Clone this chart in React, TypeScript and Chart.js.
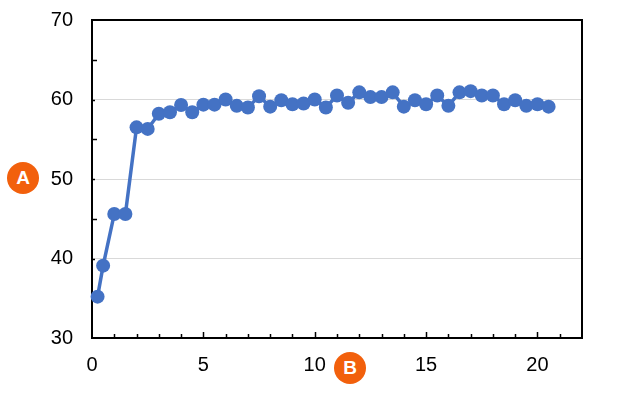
import React, { useEffect, useRef } from "react";
import { Chart, registerables } from "chart.js";

Chart.register(...registerables);

const xValues = [0.25, 0.5, 1, 1.5, 2, 2.5, 3, 3.5, 4, 4.5, 5, 5.5, 6, 6.5, 7, 7.5, 8, 8.5, 9, 9.5, 10, 10.5, 11, 11.5, 12, 12.5, 13, 13.5, 14, 14.5, 15, 15.5, 16, 16.5, 17, 17.5, 18, 18.5, 19, 19.5, 20, 20.5];
const yValues = [35.2, 39.1, 45.6, 45.6, 56.5, 56.3, 58.2, 58.4, 59.3, 58.4, 59.35, 59.35, 60.0, 59.2, 59.0, 60.4, 59.1, 59.9, 59.4, 59.5, 60.0, 59.0, 60.5, 59.6, 60.9, 60.3, 60.3, 60.9, 59.1, 59.9, 59.4, 60.5, 59.2, 60.9, 61.05, 60.5, 60.5, 59.4, 59.9, 59.2, 59.4, 59.1];
const xMin = 0;
const xMax = 22;
const yMin = 30;
const yMax = 70;
const xMajorStep = 5;
const xMinorStep = 1;
const yMajorStep = 10;
const yMinorStep = 5;
const yGridValues = [40, 50, 60];
const axisLabelA = "A";
const axisLabelB = "B";

const framePlugin = {
  id: "frame",
  beforeDatasetsDraw(chart: any) {
    const { ctx, chartArea, scales } = chart;
    const { left, right, top, bottom } = chartArea;
    ctx.save();
    ctx.strokeStyle = "#000";
    ctx.lineWidth = 2;
    ctx.strokeRect(left, top, right - left, bottom - top);
    ctx.lineWidth = 1.5;
    for (let v = xMin + xMinorStep; v < xMax; v += xMinorStep) {
      const px = Math.round(scales.x.getPixelForValue(v)) + 0.5;
      const len = v % xMajorStep === 0 ? 6 : 4;
      ctx.beginPath();
      ctx.moveTo(px, bottom);
      ctx.lineTo(px, bottom - len);
      ctx.stroke();
    }
    for (let v = yMin + yMinorStep; v < yMax; v += yMinorStep) {
      const py = Math.round(scales.y.getPixelForValue(v)) + 0.5;
      const len = v % yMajorStep === 0 ? 3 : 5;
      ctx.beginPath();
      ctx.moveTo(left, py);
      ctx.lineTo(left + len, py);
      ctx.stroke();
    }
    ctx.restore();
  },
};

export default function App() {
  const canvasRef = useRef<HTMLCanvasElement>(null);

  useEffect(() => {
    document.body.style.margin = "0";
    const canvas = canvasRef.current;
    if (!canvas) return;
    const font = { family: "'Liberation Sans', Arial, sans-serif", size: 20 };
    const chart = new Chart(canvas, {
      type: "line",
      data: {
        datasets: [
          {
            data: xValues.map((x, i) => ({ x, y: yValues[i] })),
            borderColor: "#4472C4",
            backgroundColor: "#4472C4",
            borderWidth: 3.5,
            pointRadius: 7,
            pointBorderWidth: 0,
            pointBackgroundColor: "#4472C4",
            fill: false,
            tension: 0,
            clip: false as any,
          },
        ],
      },
      options: {
        animation: false,
        responsive: false,
        maintainAspectRatio: false,
        layout: { padding: { left: 0, top: 20, right: 58, bottom: 0 } },
        plugins: { legend: { display: false }, tooltip: { enabled: false } },
        scales: {
          x: {
            type: "linear",
            min: xMin,
            max: xMax,
            border: { display: false },
            grid: { display: false, drawTicks: false },
            ticks: {
              stepSize: xMajorStep,
              includeBounds: false,
              color: "#000",
              font,
              padding: 15,
              maxRotation: 0,
            },
            afterFit: (s: any) => {
              s.height = 58;
              s.paddingLeft = 0;
              s.paddingRight = 0;
            },
          },
          y: {
            type: "linear",
            min: yMin,
            max: yMax,
            border: { display: false },
            grid: {
              drawTicks: false,
              color: (c: any) => (yGridValues.includes(c.tick?.value) ? "#D9D9D9" : "rgba(0,0,0,0)"),
              lineWidth: 1,
            },
            ticks: {
              stepSize: yMajorStep,
              color: "#000",
              font,
              padding: 19,
            },
            afterFit: (s: any) => {
              s.width = 92;
              s.paddingTop = 0;
              s.paddingBottom = 0;
            },
          },
        },
      },
      plugins: [framePlugin],
    });
    return () => chart.destroy();
  }, []);

  const badge = (cx: number, cy: number, text: string) => (
    <div
      style={{
        position: "absolute",
        left: cx - 16,
        top: cy - 16,
        width: 32,
        height: 32,
        borderRadius: "50%",
        background: "#F2600C",
        color: "#fff",
        fontFamily: "'Liberation Sans', Arial, sans-serif",
        fontWeight: "bold",
        fontSize: 19,
        lineHeight: "32px",
        textAlign: "center",
      }}
    >
      {text}
    </div>
  );

  return (
    <div style={{ position: "relative", width: 640, height: 396, background: "#fff" }}>
      <canvas ref={canvasRef} width={640} height={396} style={{ display: "block" }} />
      {badge(23, 178, axisLabelA)}
      {badge(350, 368, axisLabelB)}
    </div>
  );
}
